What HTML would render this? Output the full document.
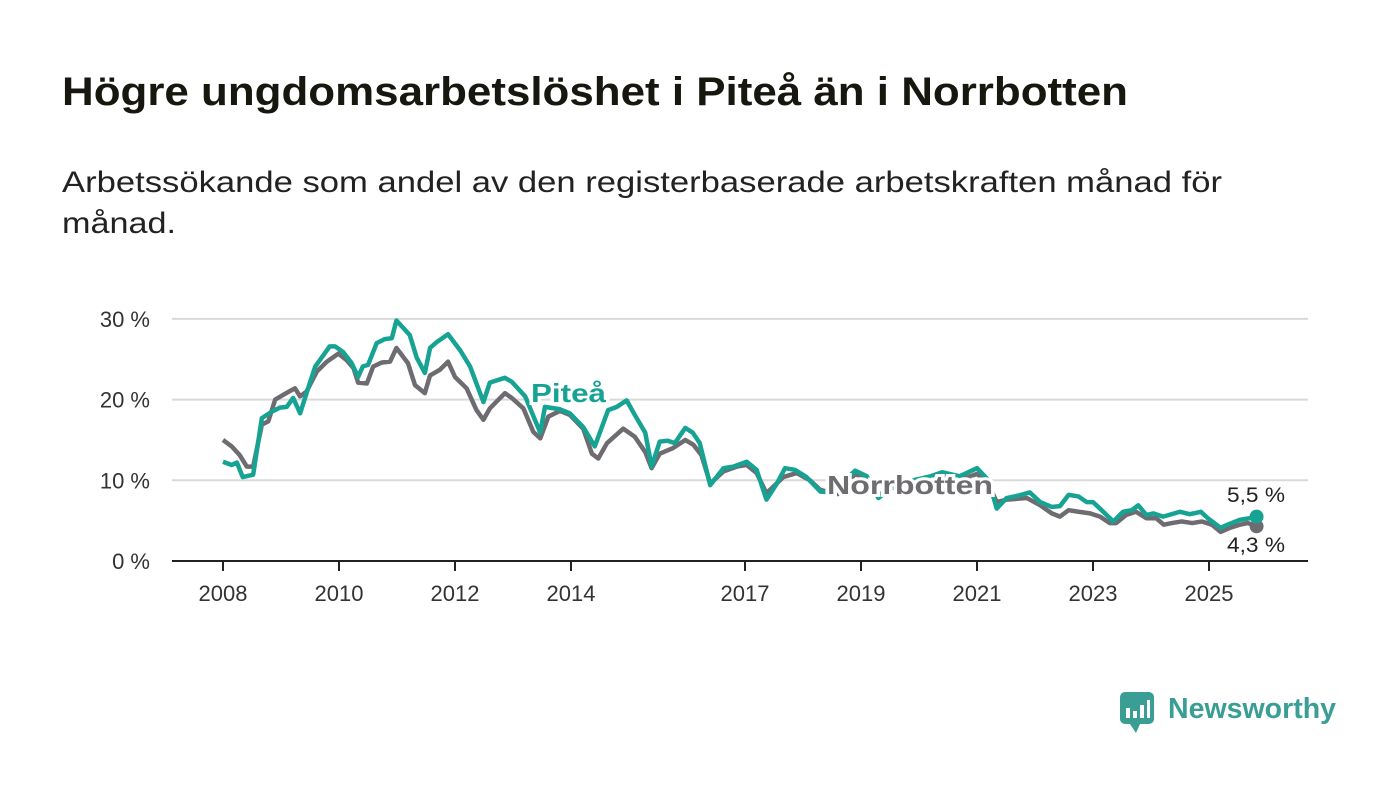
<!DOCTYPE html>
<html><head><meta charset="utf-8"><style>
body{margin:0;background:#fff;width:1400px;height:794px;overflow:hidden;font-family:"Liberation Sans",sans-serif}
</style></head><body>
<svg width="1400" height="794" viewBox="0 0 1400 794">
<text x="62" y="105" font-size="40" font-weight="bold" fill="#17170f" textLength="1066" lengthAdjust="spacingAndGlyphs">Högre ungdomsarbetslöshet i Piteå än i Norrbotten</text>
<text x="62" y="192" font-size="30" fill="#222" textLength="1160" lengthAdjust="spacingAndGlyphs">Arbetssökande som andel av den registerbaserade arbetskraften månad för</text>
<text x="62" y="233" font-size="30" fill="#222" textLength="114" lengthAdjust="spacingAndGlyphs">månad.</text>
<g id="grid"></g><g id="axes"></g><g id="series"></g><g id="labels"></g>
<g>
<rect x="1120" y="692" width="34" height="32" rx="5" fill="#3a9e94"/>
<path d="M1130 724 L1136 733 L1140 724Z" fill="#3a9e94"/>
<rect x="1126" y="708" width="4" height="10" fill="#fff"/><rect x="1133" y="711" width="4" height="7" fill="#fff"/><rect x="1140" y="705" width="4" height="13" fill="#fff"/><rect x="1147" y="700" width="3" height="18" fill="#fff"/>
<text x="1168" y="718" font-size="29" font-weight="bold" fill="#3a9e94" textLength="168" lengthAdjust="spacingAndGlyphs">Newsworthy</text>
</g>
</svg>
<script>
const yTicks=[0,10,20,30];
const yTickLabels=["0 %","10 %","20 %","30 %"];
const xTicks=[2008,2010,2012,2014,2017,2019,2021,2023,2025];
const piteaDates=[2008.0,2008.15,2008.24,2008.34,2008.52,2008.67,2008.84,2008.98,2009.1,2009.21,2009.33,2009.44,2009.59,2009.84,2009.93,2010.07,2010.22,2010.33,2010.41,2010.5,2010.65,2010.79,2010.91,2010.99,2011.22,2011.34,2011.48,2011.57,2011.68,2011.88,2012.09,2012.26,2012.49,2012.6,2012.86,2012.98,2013.21,2013.47,2013.55,2013.81,2013.98,2014.21,2014.41,2014.64,2014.79,2014.96,2015.1,2015.28,2015.39,2015.53,2015.67,2015.79,2015.97,2016.1,2016.22,2016.4,2016.63,2016.8,2017.03,2017.2,2017.37,2017.55,2017.69,2017.86,2018.06,2018.3,2018.5,2018.9,2019.1,2019.3,2019.6,2019.9,2020.2,2020.4,2020.7,2021.0,2021.2,2021.34,2021.51,2021.71,2021.91,2022.09,2022.29,2022.43,2022.58,2022.75,2022.89,2023.0,2023.12,2023.35,2023.52,2023.67,2023.78,2023.92,2024.04,2024.21,2024.5,2024.67,2024.86,2024.98,2025.2,2025.32,2025.53,2025.7,2025.82];
const piteaValues=[12.3,11.9,12.2,10.4,10.7,17.7,18.5,19.0,19.1,20.2,18.3,20.8,24.1,26.6,26.6,25.9,24.5,22.8,24.1,24.3,27.0,27.5,27.6,29.8,28.0,25.2,23.3,26.4,27.1,28.1,26.1,24.1,19.7,22.1,22.7,22.2,20.4,15.9,19.1,18.8,18.3,16.6,14.2,18.7,19.1,19.9,18.1,15.9,11.7,14.8,14.9,14.6,16.5,15.9,14.6,9.4,11.5,11.7,12.3,11.3,7.6,9.6,11.5,11.3,10.4,8.6,8.5,11.2,10.5,7.8,9.5,10.0,10.5,11.0,10.5,11.5,10.0,6.5,7.8,8.1,8.5,7.3,6.7,6.8,8.2,8.0,7.3,7.3,6.5,4.9,6.1,6.3,6.9,5.7,5.9,5.5,6.1,5.8,6.1,5.3,4.1,4.5,5.1,5.3,5.5];
const norrDates=[2008.0,2008.15,2008.29,2008.41,2008.52,2008.67,2008.78,2008.9,2009.04,2009.24,2009.33,2009.44,2009.62,2009.79,2009.99,2010.13,2010.25,2010.33,2010.48,2010.59,2010.74,2010.88,2010.99,2011.19,2011.31,2011.48,2011.57,2011.74,2011.88,2012.0,2012.2,2012.37,2012.49,2012.6,2012.86,2012.98,2013.18,2013.35,2013.47,2013.61,2013.81,2013.98,2014.21,2014.36,2014.47,2014.62,2014.9,2015.1,2015.28,2015.39,2015.53,2015.76,2015.97,2016.11,2016.25,2016.4,2016.63,2016.86,2017.03,2017.2,2017.37,2017.66,2017.89,2018.12,2018.3,2018.6,2018.9,2019.1,2019.3,2019.6,2019.9,2020.2,2020.4,2020.7,2021.0,2021.2,2021.34,2021.51,2021.86,2022.09,2022.29,2022.43,2022.58,2022.75,2022.95,2023.12,2023.29,2023.4,2023.57,2023.74,2023.92,2024.09,2024.22,2024.36,2024.53,2024.71,2024.88,2025.05,2025.2,2025.36,2025.53,2025.67,2025.82];
const norrValues=[15.0,14.2,13.1,11.7,11.7,16.9,17.3,20.0,20.6,21.4,20.4,21.0,23.5,24.7,25.7,24.9,23.9,22.1,22.0,24.1,24.6,24.7,26.4,24.5,21.8,20.8,23.0,23.7,24.7,22.8,21.4,18.7,17.5,18.9,20.8,20.2,18.9,16.0,15.2,17.9,18.6,18.1,16.4,13.3,12.7,14.6,16.4,15.4,13.5,11.5,13.3,14.0,15.0,14.4,13.1,9.6,11.1,11.7,11.9,10.9,8.4,10.4,10.9,10.0,8.8,8.3,10.8,10.0,8.2,9.2,9.5,10.0,10.5,10.0,10.8,9.5,7.3,7.6,7.8,6.9,5.9,5.5,6.3,6.1,5.9,5.5,4.7,4.7,5.7,6.1,5.3,5.3,4.5,4.7,4.9,4.7,4.9,4.5,3.6,4.1,4.5,4.7,4.3];
const NS="http://www.w3.org/2000/svg";
const X=v=>223+(v-2008)*58, Y=v=>561-v*8.07;
function mk(t,a,p){const e=document.createElementNS(NS,t);for(const k in a)e.setAttribute(k,a[k]);document.getElementById(p).appendChild(e);return e;}
yTicks.forEach((t,i)=>{
 if(t>0){const g=mk('line',{x1:172,x2:1308,y1:Y(t),y2:Y(t),stroke:'#d9d9d9','stroke-width':2},'grid');
 
 }
 const l=mk('text',{x:150,y:Y(t)+8,'text-anchor':'end','font-size':22,fill:'#333'},'axes');l.textContent=yTickLabels[i];
 
 
});
const ax=mk('line',{x1:172,x2:1308,y1:561,y2:561,stroke:'#222','stroke-width':2},'axes');


xTicks.forEach(t=>{
 mk('line',{x1:X(t),x2:X(t),y1:561,y2:571,stroke:'#222','stroke-width':2},'axes');
 const l=mk('text',{x:X(t),y:601,'text-anchor':'middle','font-size':22,fill:'#333'},'axes');l.textContent=t;
 
 
});
function line(d,v,c,n){const p=mk('polyline',{points:d.map((x,i)=>X(x)+','+Y(v[i])).join(' '),fill:'none',stroke:c,'stroke-width':4.5,'stroke-linejoin':'round'},'series');
 
 
 const c2=mk('circle',{cx:X(d[d.length-1]),cy:Y(v[v.length-1]),r:7,fill:c},'series');
 
 }
line(norrDates,norrValues,'#6e6c71','norrbotten-line');
line(piteaDates,piteaValues,'#17a394','pitea-line');
function lab(x,y,t,c,s,b,n,halo,w){const e=mk('text',{x,y,'font-size':s,'font-weight':b?'bold':'normal',fill:c},'labels');e.textContent=t;
 if(w){e.setAttribute('textLength',w);e.setAttribute('lengthAdjust','spacingAndGlyphs');}
 if(halo){e.setAttribute('stroke','#fff');e.setAttribute('stroke-width',6);e.setAttribute('paint-order','stroke');}
 
 }
lab(531,402,'Piteå','#17a394',26,true,'pitea-label',true,75);
lab(827,494,'Norrbotten','#6e6c71',26,true,'norrbotten-label',true,166);
lab(1227,502,'5,5 %','#222',21,false,'pitea-end-value',false,58);
lab(1227,552,'4,3 %','#222',21,false,'norrbotten-end-value',true,58);
</script>
</body></html>
